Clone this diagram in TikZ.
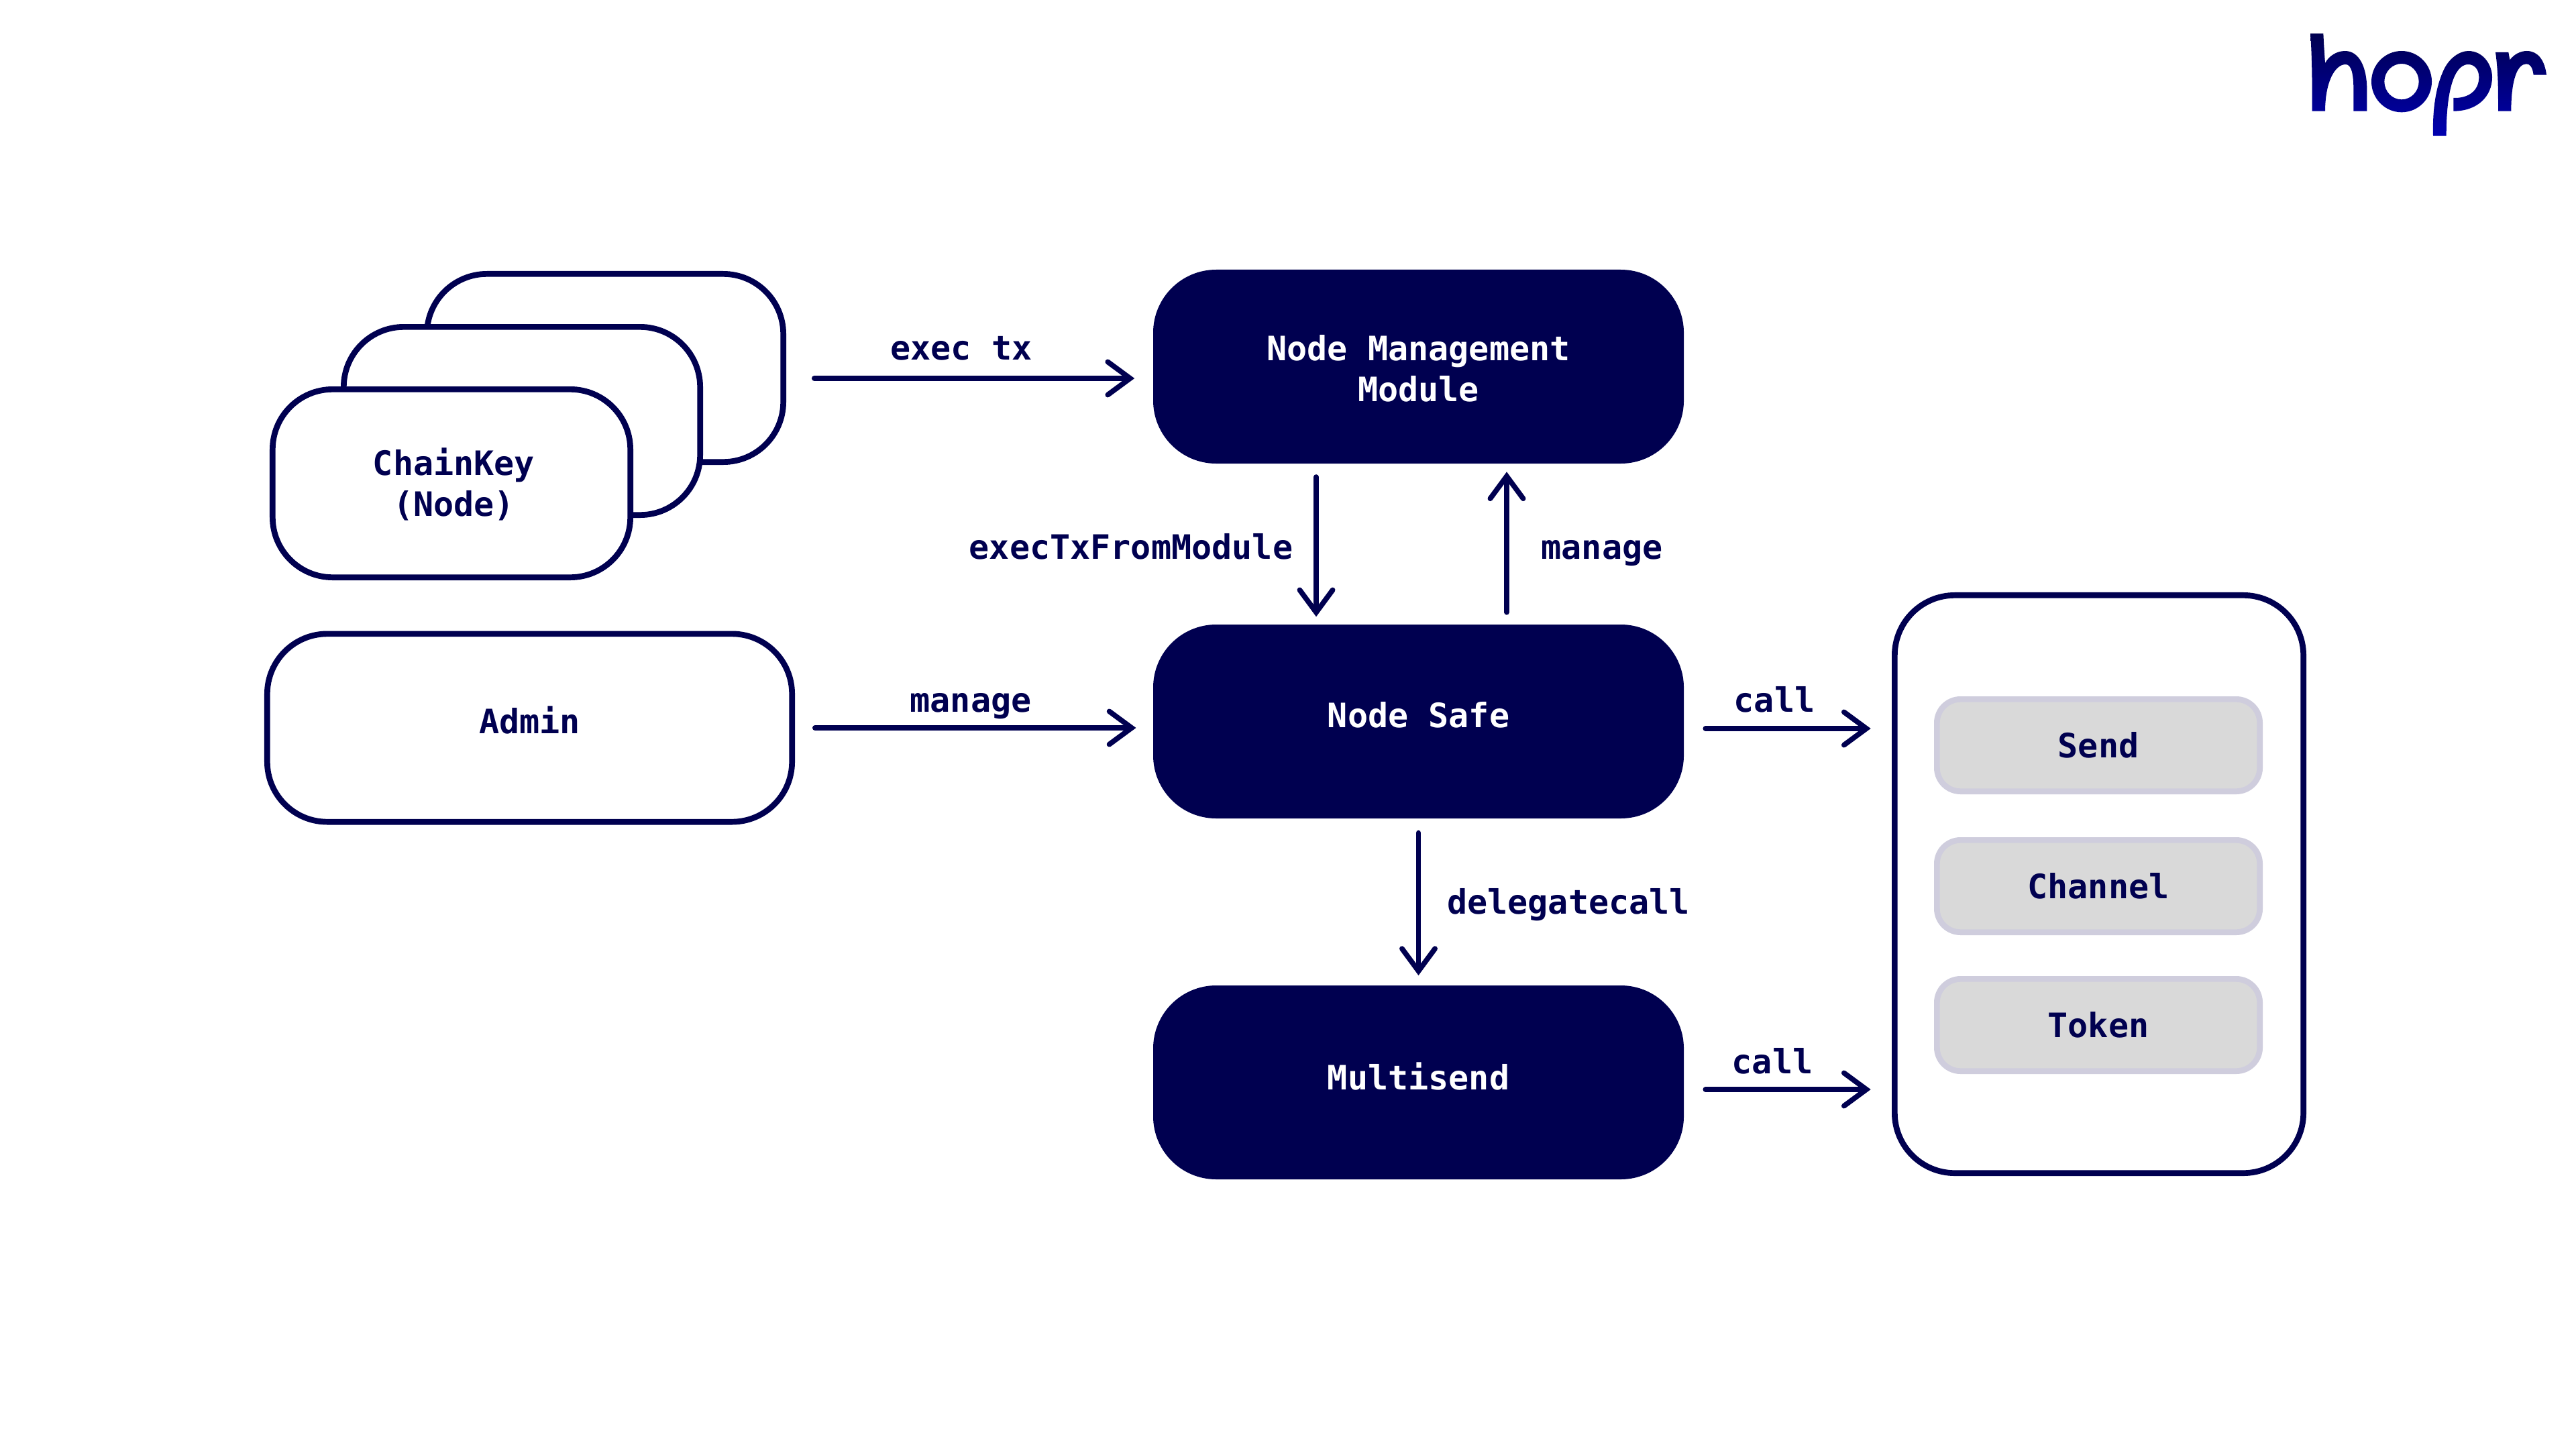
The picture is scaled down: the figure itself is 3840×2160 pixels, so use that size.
\documentclass[tikz,border=0pt]{standalone}
\usepackage{fontspec}
\setmainfont{DejaVu Sans Mono Bold}[BoldFont=DejaVu Sans Mono Bold]
\usetikzlibrary{arrows.meta}
\definecolor{navy}{HTML}{000050}
\definecolor{sbord}{HTML}{CFCDDD}
\definecolor{sfill}{HTML}{D9D9D9}
\newcommand{\pxbox}[7]{%
  \node[#2,minimum width={(#5-#3-8.7)*0.5692pt},minimum height={(#6-#4-8.7)*0.5692pt}] (#1) at ({(#3+#5)/2},{(#4+#6)/2}) {#7};}
\newcommand{\lift}{\rule{0pt}{25pt}}
\tikzset{
  x=0.02cm,y=-0.02cm,
  every node/.style={font=\fontsize{28.5}{34.5}\selectfont,text=navy,align=center,inner sep=0pt,outer sep=0pt},
  wbox/.style={draw=navy,fill=white,line width=4.95pt,rounded corners=51pt},
  dbox/.style={draw=navy,fill=navy,text=white,line width=4.95pt,rounded corners=51pt},
  gbox/.style={draw=sbord,fill=sfill,line width=4.95pt,rounded corners=20pt},
  conn/.style={draw=navy,line width=4.4pt,line cap=round,-{Straight Barb[length=19pt,width=28pt,line cap=round]}},
  lbl/.style={},
  up1/.style={text height=10.2pt,text depth=0pt},
  up2/.style={text height=12.5pt,text depth=0pt}
}
\begin{document}
\begin{tikzpicture}
\useasboundingbox (0,0) rectangle (3840,2160);
\fill[white] (0,0) rectangle (3840,2160);
% stack
\pxbox{top}{wbox}{632}{404}{1172}{693}{}
\pxbox{mid}{wbox}{508}{483}{1048}{772}{}
\pxbox{chain}{wbox}{402}{576}{944}{865}{\hspace*{4pt}\lift ChainKey\\\hspace*{4pt}(Node)}
\pxbox{admin}{wbox,up1}{394}{940.5}{1185}{1229.5}{Admin}
% dark boxes
\pxbox{mgmt}{dbox}{1719}{402}{2510}{691}{\lift Node Management\\Module}
\pxbox{safe}{dbox,up1}{1719}{931}{2510}{1220}{Node Safe}
\pxbox{multi}{dbox,up2}{1719}{1469}{2510}{1758}{Multisend}
% right container
\pxbox{cont}{wbox}{2820}{883}{3438}{1753}{}
\pxbox{send}{gbox}{2883}{1038}{3373}{1184}{Send}
\pxbox{chan}{gbox}{2883}{1248}{3373}{1394}{Channel}
\pxbox{tok}{gbox}{2883}{1455}{3373}{1601}{Token}
% connector anchors
\coordinate (ex) at (1172,564);
\coordinate (ad) at (1185,1085);
\coordinate (sa) at (2510,1086);
\coordinate (mu) at (2510,1624);
\coordinate (dn) at (1962,691);
\coordinate (up) at (2246,931);
% connectors
\draw[conn,shorten <=23.8pt,shorten >=18.3pt] (ex) -- (ex -| mgmt.west);
\draw[conn,shorten <=17pt,shorten >=17pt] (ad) -- (ad -| safe.west);
\draw[conn,shorten <=11.4pt,shorten >=9.1pt] (dn) -- (dn |- safe.north);
\draw[conn,shorten <=10.4pt,shorten >=9.5pt] (up) -- (up |- mgmt.south);
\draw[conn,shorten <=14.7pt,shorten >=11pt] (safe.south) -- (multi.north);
\draw[conn,shorten <=18.4pt,shorten >=20.3pt] (sa) -- (sa -| cont.west);
\draw[conn,shorten <=18.4pt,shorten >=20.3pt] (mu) -- (mu -| cont.west);
% labels
\node[lbl] (l1) at (1433,519) {exec tx};
\node[lbl] (l2) at (1686,815) {execTxFromModule};
\node[lbl] (l3) at (2388,825) {manage};
\node[lbl] (l4) at (1447,1053) {manage};
\node[lbl] (l5) at (2645,1043) {call};
\node[lbl] (l6) at (2642,1582) {call};
\node[lbl] (l7) at (2338,1349) {delegatecall};
% logo
\begin{scope}[shift={(3400,0)},x=0.006667cm,y=-0.006667cm]
\shade[top color=navy,bottom color={rgb,255:red,0;green,0;blue,176}]
 (132,150) -- (190,150) .. controls (192,195) and (195,240) .. (198,282)
 .. controls (215,250) and (250,228) .. (287,228)
 .. controls (350,228) and (385,300) .. (385,400) -- (385,497) -- (325,497) -- (325,400)
 .. controls (325,330) and (315,288) .. (290,288)
 .. controls (240,288) and (198,370) .. (198,497) -- (140,497)
 .. controls (140,380) and (140,260) .. (132,150) -- cycle
 (675,365) arc[start angle=0,end angle=360,x radius=135,y radius=137] -- cycle
 (617,365) arc[start angle=360,end angle=0,x radius=77,y radius=80] -- cycle
 (681,608) .. controls (678,500) and (690,400) .. (725,320)
 .. controls (750,260) and (800,228) .. (838,228)
 .. controls (905,228) and (945,290) .. (945,345)
 .. controls (945,430) and (880,497) .. (772,497) -- (772,438)
 .. controls (840,440) and (886,405) .. (886,345)
 .. controls (886,310) and (865,288) .. (838,288)
 .. controls (790,288) and (740,360) .. (740,608) -- cycle
 (960,234) -- (1018,234) -- (1024,268)
 .. controls (1045,240) and (1075,228) .. (1100,228)
 .. controls (1150,228) and (1180,270) .. (1188,335) -- (1130,335)
 .. controls (1125,300) and (1115,286) .. (1098,286)
 .. controls (1060,286) and (1030,350) .. (1030,497) -- (972,497)
 .. controls (972,400) and (972,320) .. (960,234) -- cycle;
\end{scope}
\end{tikzpicture}
\end{document}
